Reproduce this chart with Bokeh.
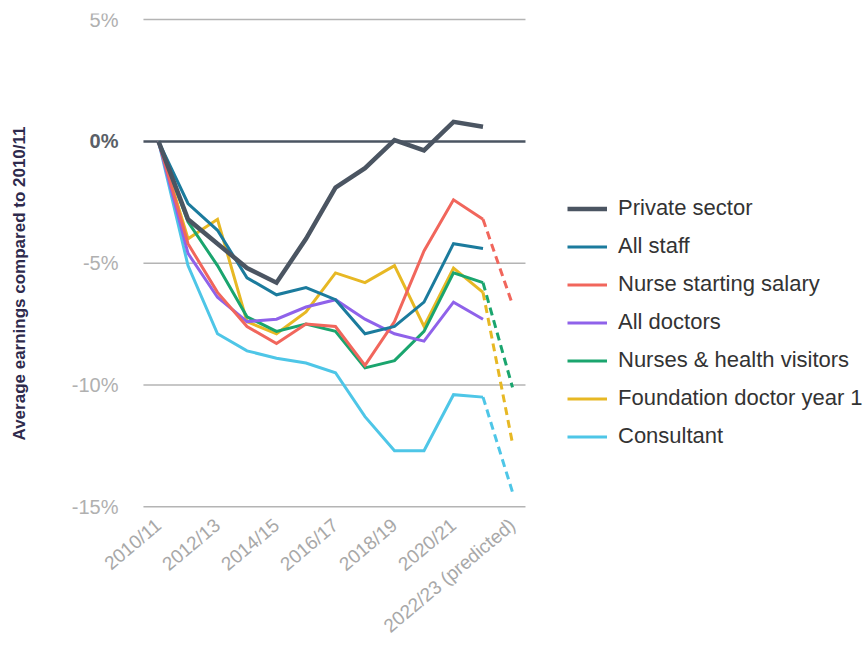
from bokeh.plotting import figure
from bokeh.models import Legend, LegendItem, FixedTicker
from bokeh.core.properties import value
from bokeh.embed import file_html
from bokeh.resources import INLINE

years = ["2010/11", "2011/12", "2012/13", "2013/14", "2014/15", "2015/16", "2016/17",
         "2017/18", "2018/19", "2019/20", "2020/21", "2021/22", "2022/23 (predicted)"]
shown_ticks = ["2010/11", "2012/13", "2014/15", "2016/17", "2018/19", "2020/21", "2022/23 (predicted)"]
y_ticks = [5, 0, -5, -10, -15]

private_sector = [0, -3.2, -4.2, -5.2, -5.8, -4.0, -1.9, -1.1, 0.05, -0.37, 0.8, 0.6, None]
all_staff = [0, -2.55, -3.65, -5.6, -6.3, -6.0, -6.5, -7.9, -7.6, -6.6, -4.2, -4.4, None]
nurse_starting = [0, -4.2, -6.2, -7.6, -8.3, -7.5, -7.6, -9.2, -7.4, -4.5, -2.4, -3.2, -6.7]
all_doctors = [0, -4.6, -6.4, -7.4, -7.3, -6.8, -6.5, -7.3, -7.9, -8.2, -6.6, -7.3, None]
nurses_hv = [0, -3.3, -5.1, -7.2, -7.8, -7.5, -7.8, -9.3, -9.0, -7.8, -5.4, -5.8, -10.1]
foundation_y1 = [0, -4.0, -3.2, -7.4, -7.9, -7.0, -5.4, -5.8, -5.1, -7.6, -5.2, -6.2, -12.4]
consultant = [0, -5.1, -7.9, -8.6, -8.9, -9.1, -9.5, -11.3, -12.7, -12.7, -10.4, -10.5, -14.4]

series = [
    ("Private sector", private_sector, "#4b5562", 4.5),
    ("All staff", all_staff, "#1b7b9d", 3),
    ("Nurse starting salary", nurse_starting, "#f1665c", 3),
    ("All doctors", all_doctors, "#8f62ea", 3),
    ("Nurses & health visitors", nurses_hv, "#1aa56e", 3),
    ("Foundation doctor year 1", foundation_y1, "#e7b824", 3),
    ("Consultant", consultant, "#4ec6e7", 3),
]

FONT = "Liberation Sans"

p = figure(width=864, height=647, output_backend="svg", toolbar_location=None,
           x_range=(-2.983, 23.932), y_range=(-16.92, 5.25),
           min_border_left=70, min_border_right=0, min_border_top=13, min_border_bottom=0)
p.outline_line_color = None
p.background_fill_color = "white"
p.border_fill_color = "white"

xi = list(range(len(years)))
grid_x0, grid_x1 = -0.51, 12.44

# grid lines
p.xgrid.grid_line_color = None
p.ygrid.grid_line_color = None
other = [t for t in y_ticks if t != 0]
p.segment(x0=[grid_x0] * len(other), x1=[grid_x1] * len(other), y0=other, y1=other,
          line_color="#b4b4b4", line_width=1.5)
p.segment(x0=[grid_x0], x1=[grid_x1], y0=[0], y1=[0], line_color="#4b5562", line_width=2.5)

# y axis: only the title
p.yaxis.ticker = FixedTicker(ticks=[])
p.yaxis.axis_line_color = None
p.yaxis.major_tick_line_color = None
p.yaxis.minor_tick_line_color = None
p.yaxis.axis_label = "Average earnings compared to 2010/11"
p.yaxis.axis_label_text_font = FONT
p.yaxis.axis_label_text_font_style = "bold"
p.yaxis.axis_label_text_font_size = "17px"
p.yaxis.axis_label_text_color = "#2e2a4c"
p.yaxis.axis_label_standoff = 42

# y tick labels
label_x = -1.356
p.text(x=[label_x] * len(other), y=other, text=[f"{t}%" for t in other],
       text_align="right", text_baseline="middle", text_font=value(FONT),
       text_font_size="20px", text_color="#b0b0b0")
p.text(x=[label_x], y=[0], text=["0%"], text_align="right", text_baseline="middle",
       text_font=value(FONT), text_font_size="20px", text_font_style="bold",
       text_color="#5a5f67")

# x axis
tick_idx = [years.index(t) for t in shown_ticks]
p.xaxis.ticker = FixedTicker(ticks=tick_idx)
p.xaxis.major_label_overrides = {i: years[i] for i in tick_idx}
p.xaxis.major_label_orientation = 0.698
p.xaxis.axis_line_color = None
p.xaxis.major_tick_line_color = None
p.xaxis.minor_tick_line_color = None
p.xaxis.major_label_text_color = "#a8a8a8"
p.xaxis.major_label_text_font = FONT
p.xaxis.major_label_text_font_size = "19px"
p.xaxis.major_label_standoff = -37

items = []
for name, vals, color, width in reversed(series):
    xs = [x for x, v in zip(xi[:12], vals[:12]) if v is not None]
    ys = [v for v in vals[:12] if v is not None]
    r = p.line(xs, ys, line_color=color, line_width=width, line_join="miter")
    if vals[12] is not None:
        p.line(xi[11:13], vals[11:13], line_color=color, line_width=width, line_dash="8 5")
    items.append(LegendItem(label=name, renderers=[r]))
items.reverse()

legend = Legend(items=items, location=(497, 104), orientation="vertical",
                glyph_width=40, glyph_height=25, label_height=25, spacing=12, label_standoff=11,
                padding=0, margin=0, border_line_color=None, background_fill_alpha=0,
                label_text_font=FONT, label_text_font_size="22px", label_text_color="#333333")
p.add_layout(legend, "center")

open("out.html", "w").write(file_html(p, INLINE))
